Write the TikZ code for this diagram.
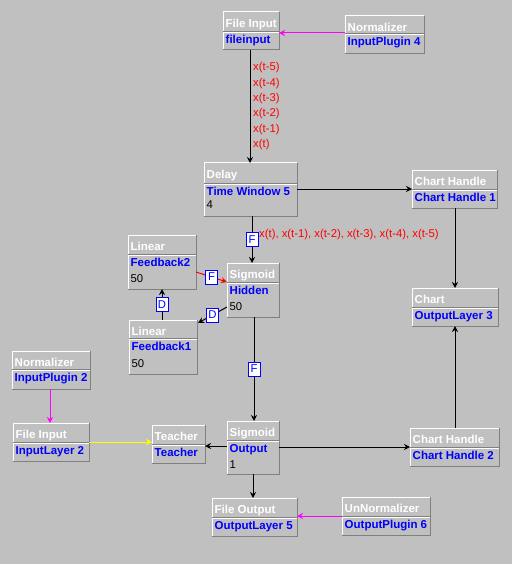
\documentclass[tikz,border=0pt]{standalone}
\usepackage{fontspec}
\setmainfont{Liberation Sans}
\usetikzlibrary{arrows.meta,calc}
\definecolor{bg}{HTML}{C0C0C0}
\definecolor{dk}{HTML}{808080}
\definecolor{jblue}{HTML}{0000FF}
\definecolor{jred}{HTML}{FF0000}
\definecolor{jmag}{HTML}{FF00FF}
\definecolor{jyel}{HTML}{FFFF00}
\tikzset{
  jb/.style={draw=none, fill=bg, inner sep=0pt, outer sep=0pt},
  ttl/.style={text=white, font=\fontsize{11.5}{12}\selectfont\bfseries, inner sep=0pt, anchor=base west},
  nam/.style={text=jblue, font=\fontsize{11.5}{12}\selectfont\bfseries, inner sep=0pt, anchor=base west},
  num/.style={text=black, font=\fontsize{11.3}{12}\selectfont, inner sep=0pt, anchor=base west},
  lbl/.style={text=jred, font=\fontsize{11.3}{12}\selectfont, inner sep=0pt, anchor=base west},
  conn/.style={line width=1pt, -{Stealth[length=6pt,width=6pt]}},
  tag/.style={draw=jblue, fill=white, text=jblue, line width=1pt, minimum width=12pt, minimum height=14pt, inner sep=0pt, font=\fontsize{11.3}{12}\selectfont},
}
\newcommand\jbox[8]{%
  \pgfmathsetmacro\jcx{(#2+#4)/2}%
  \pgfmathsetmacro\jcy{(#3+#5)/2}%
  \pgfmathsetmacro\jw{#4-#2}%
  \pgfmathsetmacro\jh{#5-#3}%
  \node[jb, minimum width=\jw pt, minimum height=\jh pt] (#1) at (\jcx,\jcy) {};
  \draw[white,line width=1pt] (#2,#5) -- (#2,#3) -- (#4,#3);
  \draw[dk,line width=1pt] (#4,#3) -- (#4,#5) -- (#2,#5);
  \draw[dk,line width=1pt] (#2,#6) -- (#4,#6);
  \draw[white,line width=1pt] (#2,#6+1) -- (#4,#6+1);
  \node[ttl] (#1-t) at (#2+2.5,#3+15.5) {#7};
  \node[nam] (#1-n) at (#2+2.5,#6+12) {#8};
}
\begin{document}
\begin{tikzpicture}[x=1pt,y=-1pt]
\useasboundingbox (0,0) rectangle (512,564);
\fill[bg] (0,0) rectangle (512,564);

\jbox{fi}{223}{12}{279}{50}{32}{File Input}{fileinput}
\jbox{normA}{345}{16}{424}{54}{34}{Normalizer}{InputPlugin 4}
\jbox{delay}{204}{163}{297}{216}{183}{Delay}{Time Window 5}
\node[num] (delay-v) at (206.5,208.5) {4};
\jbox{chA}{412}{170}{497}{208}{189}{Chart Handle}{Chart Handle 1}
\jbox{chart}{412}{288}{498}{326}{307}{Chart}{OutputLayer 3}
\jbox{fbB}{128}{235}{196}{289}{254}{Linear}{Feedback2}
\node[num] (fbB-v) at (130.5,282) {50};
\jbox{hidden}{227}{263}{279}{317}{282}{Sigmoid}{Hidden}
\node[num] (hidden-v) at (229.5,310.5) {50};
\jbox{fbA}{129}{320}{197}{374}{338}{Linear}{Feedback1}
\node[num] (fbA-v) at (131.5,367) {50};
\jbox{normB}{12}{351}{90}{389}{369}{Normalizer}{InputPlugin 2}
\jbox{fiB}{13}{423}{89}{461}{442}{File Input}{InputLayer 2}
\jbox{teacher}{152}{425}{205}{463}{444}{Teacher}{Teacher}
\jbox{output}{227}{421}{279}{474}{440}{Sigmoid}{Output}
\node[num] (output-v) at (229.5,468) {1};
\jbox{chB}{410}{428}{499}{466}{447}{Chart Handle}{Chart Handle 2}
\jbox{fo}{212}{498}{297}{536}{517}{File Output}{OutputLayer 5}
\jbox{unnorm}{342}{497}{430}{535}{516}{UnNormalizer}{OutputPlugin 6}

% labels
\node[lbl] (l5) at (253,71) {x(t-5)};
\node[lbl] (l4) at (253,86.5) {x(t-4)};
\node[lbl] (l3) at (253,102) {x(t-3)};
\node[lbl] (l2) at (253,117) {x(t-2)};
\node[lbl] (l1) at (253,132.5) {x(t-1)};
\node[lbl] (l0) at (253,148) {x(t)};
\node[lbl] (lh) at (259,237.5) {x(t), x(t-1), x(t-2), x(t-3), x(t-4), x(t-5)};

% connectors
\draw[conn,jmag] (normA.west |- 0,33) -- (fi.east |- 0,33);
\draw[conn] (fi.south -| 250,0) -- (delay.north -| 250,0);
\draw[conn] (delay.east |- chA.west) -- (chA.west);
\draw[conn] (chA.south -| 455,0) -- (chart.north -| 455,0);
\draw[conn] (chB.north -| 455,0) -- (chart.south -| 455,0);
\draw[conn] (delay.south -| 252,0) -- node[tag] (tF1) {F} (hidden.north -| 252,0);
\draw[conn,jred] (fbB.east |- 0,272) -- node[tag] (tF2) {F} (hidden.west |- 0,282);
\draw[conn] (fbA.north -| 162,0) -- node[tag] (tD1) {D} (fbB.south -| 162,0);
\draw[conn] (hidden.west |- 0,307) -- node[tag] (tD2) {D} ([shift={(1,3)}]fbA.north east);
\draw[conn] (hidden.south -| 254,0) -- node[tag] (tF3) {F} (output.north -| 254,0);
\draw[conn,jmag] (normB.south -| 50,0) -- (fiB.north -| 50,0);
\draw[conn,jyel] (fiB.east |- 0,442) -- (teacher.west |- 0,442);
\draw[conn] (output.west |- 0,446) -- (teacher.east |- 0,446);
\draw[conn] (output.east |- 0,447) -- (chB.west |- 0,447);
\draw[conn] (output.south -| 253,0) -- (fo.north -| 253,0);
\draw[conn,jmag] (unnorm.west |- 0,516) -- (fo.east |- 0,516);
\end{tikzpicture}
\end{document}
